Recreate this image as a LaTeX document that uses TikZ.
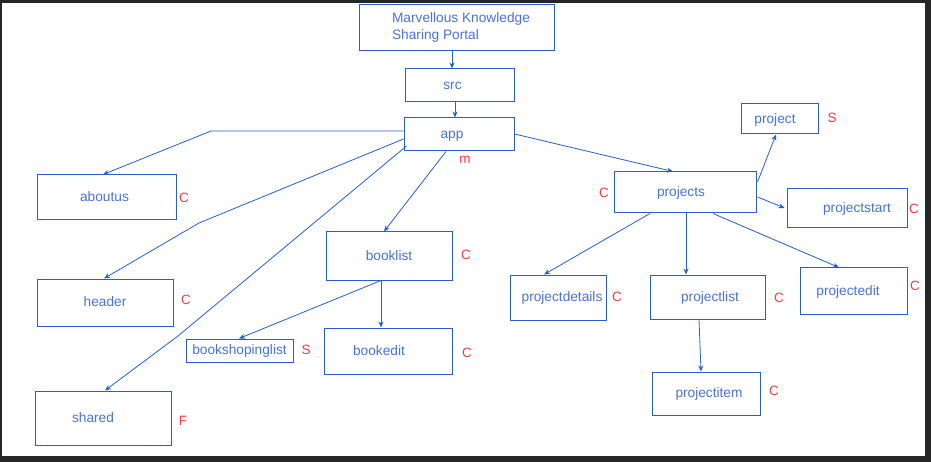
\documentclass[tikz,border=0pt]{standalone}
\usepackage{fontspec}
\setmainfont{Liberation Sans}
\usepackage{tikz}
\usetikzlibrary{arrows.meta,calc}
\definecolor{linkblue}{RGB}{35,95,215}
\definecolor{boxblue}{RGB}{45,90,215}
\definecolor{textblue}{RGB}{70,115,220}
\definecolor{tagred}{RGB}{250,60,60}
\definecolor{framedark}{RGB}{38,38,38}

\begin{document}
\begin{tikzpicture}[x=1pt, y=-1pt,
    box/.style={draw=boxblue, line width=1pt, text=textblue, inner sep=0pt,
        text height=11pt, text depth=2.5pt, font=\fontsize{13.7}{17}\selectfont},
    tag/.style={text=tagred, inner sep=0pt, font=\fontsize{13.5}{15}\selectfont},
    link/.style={draw=linkblue, line width=0.8pt, -{Stealth[length=6pt,width=5pt]}}]
        \useasboundingbox (0,0) rectangle (931,462);
        \fill[framedark] (0,0) rectangle (931,462);
        \fill[white] (2,3) rectangle (925,456);

        % boxes (hspace* nudges the text off centre, as in the sketch)
        \node[box, minimum width=195pt, minimum height=46pt, align=left,
            text height={}, text depth={}] (title) at (456.5,27.5)
            {Marvellous Knowledge\hspace*{-9pt}\\Sharing Portal};
        \node[box, minimum width=109pt, minimum height=33pt] (src) at (459.5,85.5) {\hspace*{-14pt}src};
        \node[box, minimum width=110pt, minimum height=33pt] (app) at (459,134.5) {\hspace*{-14pt}app};
        \node[box, minimum width=139pt, minimum height=45pt] (aboutus) at (106.5,197.5) {\hspace*{-4pt}aboutus};
        \node[box, minimum width=136pt, minimum height=47pt] (header) at (105,302.5) {header};
        \node[box, minimum width=136pt, minimum height=54pt] (shared) at (103,418) {\hspace*{-20pt}shared};
        \node[box, minimum width=126pt, minimum height=48pt] (booklist) at (389,256) {booklist};
        \node[box, minimum width=107pt, minimum height=23pt] (bookshopinglist) at (239.5,350.5) {bookshopinglist};
        \node[box, minimum width=128pt, minimum height=46pt] (bookedit) at (388,351) {\hspace*{-18pt}bookedit};
        \node[box, minimum width=142pt, minimum height=41pt] (projects) at (685,192.5) {\hspace*{-8pt}projects};
        \node[box, minimum width=77pt, minimum height=30pt] (project) at (779.5,119) {\hspace*{-9pt}project};
        \node[box, minimum width=120pt, minimum height=39pt] (projectstart) at (847,208.5) {projectstart\hspace*{-20pt}};
        \node[box, minimum width=96pt, minimum height=45pt] (projectdetails) at (558,297.5) {projectdetails\hspace*{-8pt}};
        \node[box, minimum width=115pt, minimum height=44pt] (projectlist) at (707.5,297) {projectlist\hspace*{-5pt}};
        \node[box, minimum width=107pt, minimum height=46pt] (projectedit) at (853.5,291) {\hspace*{-11pt}projectedit};
        \node[box, minimum width=108pt, minimum height=43pt] (projectitem) at (706,393.5) {projectitem\hspace*{-6pt}};

        % kind tags
        \node[tag] (tag-app) at (465,160) {m};
        \node[tag] (tag-aboutus) at (184,198) {C};
        \node[tag] (tag-header) at (186,300) {C};
        \node[tag] (tag-shared) at (183,421) {F};
        \node[tag] (tag-booklist) at (466,255) {C};
        \node[tag] (tag-bookshopinglist) at (306,350) {S};
        \node[tag] (tag-bookedit) at (467,353) {C};
        \node[tag] (tag-projects) at (604,193) {C};
        \node[tag] (tag-project) at (832,118) {S};
        \node[tag] (tag-projectstart) at (914,209) {C};
        \node[tag] (tag-projectdetails) at (617,297) {C};
        \node[tag] (tag-projectlist) at (779,298) {C};
        \node[tag] (tag-projectedit) at (915,286) {C};
        \node[tag] (tag-projectitem) at (774,391) {C};

        % bends
        \coordinate (bend-aboutus) at (211,131);
        \coordinate (bend-header) at (199,223);
        \coordinate (bend-shared) at (178,336);

        % connectors
        \draw[link] ($(title.south)+(-4.5,0)$) -- ($(src.north)+(-7.5,0)$);
        \draw[link] ($(src.south)+(-4.5,0)$) -- ($(app.north)+(-4,0)$);
        \draw[link] ($(app.west)+(0,-3.5)$) -- (bend-aboutus) -- ($(aboutus.north)+(-3.5,0)$);
        \draw[link] ($(app.west)+(0,4.5)$) -- (bend-header) -- ($(header.north)+(-1,0)$);
        \draw[link] ($(app.west)+(3,11.5)$) -- (bend-shared) -- ($(shared.north)+(2,0)$);
        \draw[link] ($(app.south)+(-13,0)$) -- ($(booklist.north)+(-5,0)$);
        \draw[link] ($(app.east)+(0,-0.5)$) -- ($(projects.north)+(-12,0)$);
        \draw[link] ($(projects.east)+(1,-10.5)$) -- ($(project.south)+(-3.5,0)$);
        \draw[link] ($(projects.east)+(1,4.5)$) -- ($(projectstart.west)+(-2,-0.5)$);
        \draw[link] ($(projects.south)+(-35,0)$) -- ($(projectdetails.north)+(-14,0)$);
        \draw[link] ($(projects.south)+(1,0)$) -- ($(projectlist.north)+(-21.5,0)$);
        \draw[link] ($(projects.south)+(28,0)$) -- ($(projectedit.north)+(-14.5,0)$);
        \draw[link] ($(projectlist.south)+(-8.5,0)$) -- ($(projectitem.north)+(-5,0)$);
        \draw[link] ($(booklist.south)+(-8,0)$) -- ($(bookshopinglist.north)+(-0.5,0)$);
        \draw[link] ($(booklist.south)+(-8,0)$) -- ($(bookedit.north)+(-7,0)$);
    \end{tikzpicture}
\end{document}
